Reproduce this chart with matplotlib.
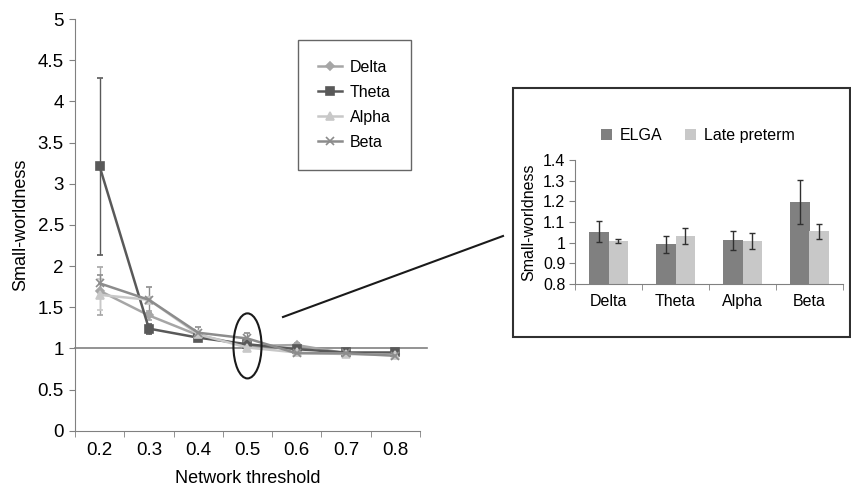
import matplotlib.pyplot as plt
from matplotlib.patches import Ellipse, Rectangle
from matplotlib.lines import Line2D

plt.rcParams["font.family"] = ["Liberation Sans", "DejaVu Sans"]

# main chart data
thresholds = ["0.2", "0.3", "0.4", "0.5", "0.6", "0.7", "0.8"]
delta = [1.70, 1.40, 1.16, 1.03, 1.04, 0.94, 0.93]
theta = [3.21, 1.24, 1.13, 1.05, 0.99, 0.95, 0.95]
alpha = [1.65, 1.59, 1.17, 1.01, 0.95, 0.93, 0.92]
beta = [1.79, 1.59, 1.19, 1.12, 0.94, 0.94, 0.91]
delta_err = [0.29, 0.05, 0.03, 0.02, 0.02, 0.01, 0.01]
theta_err = [1.08, 0.06, 0.03, 0.02, 0.02, 0.01, 0.01]
alpha_err = [0.19, 0.03, 0.03, 0.02, 0.02, 0.01, 0.01]
beta_err = [0.10, 0.16, 0.07, 0.07, 0.02, 0.01, 0.01]

# inset data
bands = ["Delta", "Theta", "Alpha", "Beta"]
elga = [1.053, 0.992, 1.012, 1.198]
elga_err = [0.05, 0.04, 0.046, 0.107]
late = [1.007, 1.033, 1.008, 1.055]
late_err = [0.01, 0.038, 0.038, 0.035]

fig = plt.figure(figsize=(8.51, 4.86), dpi=100)
ax = fig.add_axes([0.0881, 0.1138, 0.4054, 0.847])

axis_col = "#808080"
series = [
    ("Delta", delta, delta_err, "#a6a6a6", "D", 4),
    ("Theta", theta, theta_err, "#595959", "s", 6),
    ("Alpha", alpha, alpha_err, "#c8c8c8", "^", 6),
    ("Beta", beta, beta_err, "#8c8c8c", "x", 6),
]
x = list(range(len(thresholds)))
handles = []
for name, vals, err, col, mk, ms in series:
    ax.errorbar(x, vals, yerr=err, color=col, lw=1.8, marker=mk, ms=ms,
                mew=1.2, elinewidth=1.0, capsize=2.5, capthick=1.0, zorder=3)
    handles.append(Line2D([], [], color=col, lw=1.8, marker=mk, ms=ms, mew=1.2))

ax.plot([-0.5, 6.64], [1, 1], color=axis_col, lw=1.2, clip_on=False, zorder=2)

ax.set_xlim(-0.5, 6.5)
ax.set_ylim(0, 5)
ax.set_yticks([0, 0.5, 1, 1.5, 2, 2.5, 3, 3.5, 4, 4.5, 5])
ax.set_yticklabels(["0", "0.5", "1", "1.5", "2", "2.5", "3", "3.5", "4", "4.5", "5"])
ax.set_xticks(x)
ax.set_xticklabels(thresholds)
ax.set_xticks([i - 0.5 for i in range(len(thresholds) + 1)], minor=True)
ax.tick_params(axis="x", which="major", length=0, labelsize=13.5, pad=8)
ax.tick_params(axis="x", which="minor", length=4, color=axis_col, direction="out")
ax.tick_params(axis="y", length=4, color=axis_col, labelsize=13.5, pad=4)
for s in ["top", "right"]:
    ax.spines[s].set_visible(False)
for s in ["left", "bottom"]:
    ax.spines[s].set_color(axis_col)
ax.set_xlabel("Network threshold", fontsize=13, labelpad=8)
ax.set_ylabel("Small-worldness", fontsize=13, labelpad=6)

ax.add_patch(Ellipse((3, 1.03), 0.57, 0.79, fill=False, ec="#1a1a1a", lw=1.5, zorder=4))

leg = ax.legend(handles, [s[0] for s in series], loc="upper left",
                bbox_to_anchor=(298 / 851, 1 - 40 / 486), bbox_transform=fig.transFigure,
                fontsize=11.5, frameon=True, fancybox=False, handlelength=1.5,
                labelspacing=0.62, borderpad=1.25, handletextpad=0.5, borderaxespad=0)
leg.get_frame().set_edgecolor("#404040")
leg.get_frame().set_linewidth(1.0)

# connector line to the inset
fig.add_artist(Line2D([283 / 851, 503 / 851], [1 - 317 / 486, 1 - 236 / 486],
                      color="#1a1a1a", lw=1.5))

# inset box
fig.add_artist(Rectangle((513 / 851, 1 - 337 / 486), 337 / 851, 249 / 486,
                         transform=fig.transFigure, fill=False, ec="#303030", lw=1.5))

ax2 = fig.add_axes([575 / 851, 1 - 284 / 486, 268 / 851, 124 / 486])
bw = 0.285
bx = list(range(len(bands)))
ax2.bar([i - bw / 2 for i in bx], [v - 0.8 for v in elga], bw, bottom=0.8,
        color="#808080", label="ELGA", zorder=2)
ax2.bar([i + bw / 2 for i in bx], [v - 0.8 for v in late], bw, bottom=0.8,
        color="#c8c8c8", label="Late preterm", zorder=2)
ax2.errorbar([i - bw / 2 for i in bx], elga, yerr=elga_err, fmt="none",
             ecolor="#303030", elinewidth=1.0, capsize=2.5, zorder=3)
ax2.errorbar([i + bw / 2 for i in bx], late, yerr=late_err, fmt="none",
             ecolor="#303030", elinewidth=1.0, capsize=2.5, zorder=3)
ax2.set_xlim(-0.5, 3.5)
ax2.set_ylim(0.8, 1.4)
ax2.set_yticks([0.8, 0.9, 1.0, 1.1, 1.2, 1.3, 1.4])
ax2.set_yticklabels(["0.8", "0.9", "1", "1.1", "1.2", "1.3", "1.4"])
ax2.set_xticks(bx)
ax2.set_xticklabels(bands)
ax2.set_xticks([i - 0.5 for i in range(len(bands) + 1)], minor=True)
ax2.tick_params(axis="x", which="major", length=0, labelsize=11.5, pad=7)
ax2.tick_params(axis="x", which="minor", length=4, color=axis_col)
ax2.tick_params(axis="y", length=4, color=axis_col, labelsize=11.5, pad=3)
for s in ["top", "right"]:
    ax2.spines[s].set_visible(False)
for s in ["left", "bottom"]:
    ax2.spines[s].set_color(axis_col)
ax2.set_ylabel("Small-worldness", fontsize=11.5, labelpad=5)
ax2.legend(loc="lower left", bbox_to_anchor=(601 / 851, 1 - 143 / 486),
           bbox_transform=fig.transFigure, ncol=2, frameon=False, fontsize=11.5,
           handlelength=0.7, handleheight=0.7, handletextpad=0.5, columnspacing=1.4,
           borderaxespad=0, borderpad=0)

fig.savefig("out.png", dpi=100)
